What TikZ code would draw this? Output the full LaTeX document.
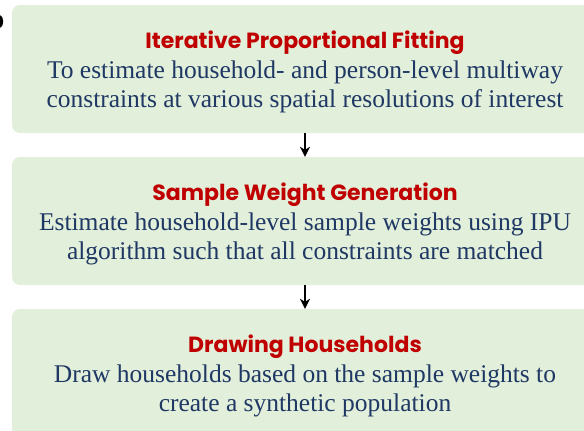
\documentclass[tikz,border=0pt]{standalone}
\usepackage{fontspec}
\setmainfont{Liberation Serif}
\newfontfamily\headfont{Poppins}
\usetikzlibrary{arrows.meta}

\definecolor{boxgreen}{HTML}{E2EFDA}
\definecolor{titlered}{HTML}{C00000}
\definecolor{bodyblue}{HTML}{1F3864}

% heading line of a stage; the strut keeps the text block a little low in the box
\newcommand\stagetitle[1]{{\headfont\bfseries\color{titlered}\fontsize{22}{30}\selectfont
  \rule{0pt}{24pt}#1}}

\begin{document}
\begin{tikzpicture}[
  x=1pt, y=-1pt,
  stage/.style={fill=boxgreen, rounded corners=8pt, minimum width=586pt, minimum height=128pt,
                align=center, inner sep=0pt, text=bodyblue, font=\fontsize{25.5}{29.5}\selectfont},
  flow/.style={-{Stealth[length=10pt, width=10pt, inset=3pt]}, line width=1.9pt},
]
\useasboundingbox (0,0) rectangle (584,431);

% panel tag, cut by the left edge
\node[font=\sffamily\bfseries\fontsize{28}{28}\selectfont, anchor=base east, inner sep=0pt] (tag) at (4.5,28) {b};

% === three stages ===
\node[stage] (ipf) at (305,69) {\stagetitle{Iterative Proportional Fitting}\\
  To estimate household- and person-level multiway\\
  constraints at various spatial resolutions of interest};

\node[stage] (weights) at (305,221) {\stagetitle{Sample Weight Generation}\\
  Estimate household-level sample weights using IPU\\
  algorithm such that all constraints are matched};

\node[stage] (drawhh) at (305,373) {\stagetitle{Drawing Households}\\
  Draw households based on the sample weights to\\
  create a synthetic population};

% arrows between stages
\draw[flow] (ipf) -- (weights);
\draw[flow] (weights) -- (drawhh);

\end{tikzpicture}
\end{document}
